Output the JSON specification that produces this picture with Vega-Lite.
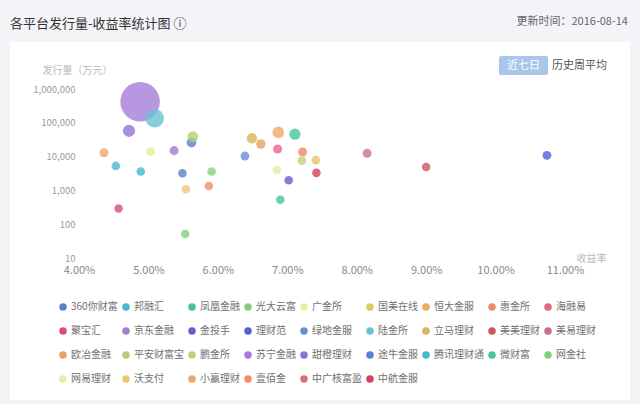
{
  "$schema": "https://vega.github.io/schema/vega-lite/v6.json",
  "autosize": "none",
  "width": 486,
  "height": 169,
  "padding": {"left": 79, "top": 89, "right": 75, "bottom": 146},
  "background": "#f3f4f8",
  "title": {
    "text": "各平台发行量-收益率统计图 ⓘ",
    "anchor": "start",
    "frame": "group",
    "baseline": "middle",
    "dx": -69,
    "offset": -21,
    "fontSize": 13,
    "fontWeight": "normal",
    "color": "#333333"
  },
  "config": {
    "font": "Noto Sans CJK SC",
    "view": {"stroke": null}
  },
  "data": {
    "values": [
      {"platform": "京东金融", "rate": 0.0488, "volume": 421000},
      {"platform": "陆金所", "rate": 0.0509, "volume": 136000},
      {"platform": "甜橙理财", "rate": 0.0472, "volume": 58000},
      {"platform": "小赢理财", "rate": 0.0436, "volume": 13000},
      {"platform": "广金所", "rate": 0.0503, "volume": 14000},
      {"platform": "苏宁金融", "rate": 0.0537, "volume": 15000},
      {"platform": "途牛金服", "rate": 0.0562, "volume": 26000},
      {"platform": "平安财富宝", "rate": 0.0564, "volume": 39000},
      {"platform": "邦融汇", "rate": 0.0453, "volume": 5300},
      {"platform": "腾讯理财通", "rate": 0.0489, "volume": 3600},
      {"platform": "360你财富", "rate": 0.0549, "volume": 3200},
      {"platform": "光大云富", "rate": 0.0591, "volume": 3600},
      {"platform": "沃支付", "rate": 0.0554, "volume": 1080},
      {"platform": "壹佰金", "rate": 0.0587, "volume": 1350},
      {"platform": "聚宝汇", "rate": 0.0457, "volume": 290},
      {"platform": "网金社", "rate": 0.0553, "volume": 51},
      {"platform": "绿地金服", "rate": 0.0639, "volume": 10400},
      {"platform": "立马理财", "rate": 0.0649, "volume": 35000},
      {"platform": "欧冶金融", "rate": 0.0662, "volume": 23600},
      {"platform": "恒大金服", "rate": 0.0687, "volume": 52000},
      {"platform": "凤凰金融", "rate": 0.0711, "volume": 46000},
      {"platform": "海融易", "rate": 0.0686, "volume": 16800},
      {"platform": "惠金所", "rate": 0.0722, "volume": 13700},
      {"platform": "鹏金所", "rate": 0.0721, "volume": 7600},
      {"platform": "国美在线", "rate": 0.0741, "volume": 7900},
      {"platform": "网易理财", "rate": 0.0685, "volume": 4000},
      {"platform": "中航金服", "rate": 0.0742, "volume": 3300},
      {"platform": "金投手", "rate": 0.0702, "volume": 2000},
      {"platform": "微财富", "rate": 0.069, "volume": 530},
      {"platform": "美易理财", "rate": 0.0815, "volume": 12500},
      {"platform": "美美理财", "rate": 0.09, "volume": 4900},
      {"platform": "理财范", "rate": 0.1074, "volume": 10900}
    ]
  },
  "layer": [
    {
      "data": {"values": [{}]},
      "mark": {"type": "rect", "color": "#ffffff"},
      "encoding": {
        "x": {"datum": 0.03006, "type": "quantitative", "scale": {"domain": [0.04, 0.11], "nice": false, "zero": false}},
        "x2": {"datum": 0.11936},
        "y": {"datum": 24600000, "type": "quantitative", "scale": {"type": "log", "domain": [10, 1000000], "nice": false}},
        "y2": {"datum": 0.00063}
      }
    },
    {
      "data": {"values": [{}]},
      "mark": {"type": "rect", "color": "#a9c5ea", "cornerRadius": 2},
      "encoding": {
        "x": {"datum": 0.10049, "type": "quantitative"},
        "x2": {"datum": 0.10755},
        "y": {"datum": 9460000, "type": "quantitative"},
        "y2": {"datum": 2590000}
      }
    },
    {
      "data": {"values": [{}]},
      "mark": {"type": "text", "text": "近七日", "align": "center", "baseline": "middle", "fontSize": 11, "color": "#ffffff"},
      "encoding": {
        "x": {"datum": 0.10402, "type": "quantitative"},
        "y": {"datum": 4950000, "type": "quantitative"}
      }
    },
    {
      "data": {"values": [{}]},
      "mark": {"type": "text", "text": "历史周平均", "align": "left", "baseline": "middle", "fontSize": 11, "color": "#555555"},
      "encoding": {
        "x": {"datum": 0.10813, "type": "quantitative"},
        "y": {"datum": 4950000, "type": "quantitative"}
      }
    },
    {
      "data": {"values": [{}]},
      "mark": {"type": "text", "text": "更新时间：2016-08-14", "align": "right", "baseline": "middle", "fontSize": 11, "color": "#666666"},
      "encoding": {
        "x": {"datum": 0.11907, "type": "quantitative"},
        "y": {"datum": 96000000, "type": "quantitative"}
      }
    },
    {
      "mark": {"type": "circle", "opacity": 0.8},
      "encoding": {
        "x": {
          "field": "rate",
          "type": "quantitative",
          "scale": {"domain": [0.04, 0.11], "nice": false, "zero": false},
          "axis": {
            "zindex": 1,
            "values": [0.04, 0.05, 0.06, 0.07, 0.08, 0.09, 0.1, 0.11],
            "format": ".2%",
            "grid": false,
            "ticks": false,
            "domain": false,
            "labelFlush": false,
            "labelPadding": 6,
            "labelFontSize": 11,
            "labelColor": "#8a8a8a",
            "title": "收益率",
            "titleX": 512,
            "titleY": 0,
            "titleAlign": "center",
            "titleBaseline": "middle",
            "titleColor": "#bbbbbb",
            "titleFontSize": 10,
            "titleFontWeight": "normal"
          }
        },
        "y": {
          "field": "volume",
          "type": "quantitative",
          "scale": {"type": "log", "domain": [10, 1000000], "nice": false},
          "axis": {
            "zindex": 1,
            "values": [10, 100, 1000, 10000, 100000, 1000000],
            "format": ",d",
            "grid": false,
            "ticks": false,
            "domain": false,
            "labelPadding": 4,
            "labelFontSize": 9.5,
            "labelColor": "#999999",
            "title": "发行量（万元）",
            "titleAngle": 0,
            "titleX": -2,
            "titleY": -19,
            "titleAlign": "center",
            "titleBaseline": "middle",
            "titleColor": "#bbbbbb",
            "titleFontSize": 10,
            "titleFontWeight": "normal"
          }
        },
        "size": {
          "field": "volume",
          "type": "quantitative",
          "scale": {"type": "pow", "exponent": 1.5, "domain": [0, 421000], "range": [72, 1560]},
          "legend": null
        },
        "color": {
          "field": "platform",
          "type": "nominal",
          "scale": {
            "domain": ["360你财富", "邦融汇", "凤凰金融", "光大云富", "广金所", "国美在线", "恒大金服", "惠金所", "海融易", "聚宝汇", "京东金融", "金投手", "理财范", "绿地金服", "陆金所", "立马理财", "美美理财", "美易理财", "欧冶金融", "平安财富宝", "鹏金所", "苏宁金融", "甜橙理财", "途牛金服", "腾讯理财通", "微财富", "网金社", "网易理财", "沃支付", "小赢理财", "壹佰金", "中广核富盈", "中航金服"],
            "range": ["#5b82c8", "#4db6cc", "#48c49a", "#86d27a", "#e2f0a0", "#e6c46a", "#f0a868", "#ee8a6a", "#e46888", "#d9506c", "#a57ed8", "#6a5ad0", "#5860d2", "#6a8cd4", "#6cc0d4", "#d4b65c", "#c85a60", "#cc6e88", "#e6a45e", "#b2d078", "#bcd47a", "#a47ad6", "#9470d8", "#5a80d0", "#44b6ce", "#46c49a", "#7cd47a", "#e4eea8", "#eec676", "#f0a66e", "#f08c68", "#dc6c72", "#d63e62"]
          },
          "legend": {
            "title": null,
            "orient": "none",
            "direction": "horizontal",
            "legendX": -21,
            "legendY": 213,
            "columns": 9,
            "gridAlign": "each",
            "symbolLimit": 0,
            "padding": 0,
            "rowPadding": 14,
            "columnPadding": 3,
            "symbolType": "circle",
            "symbolSize": 56,
            "symbolOpacity": 1,
            "symbolStrokeWidth": 0,
            "labelFontSize": 10,
            "labelOffset": 3,
            "labelColor": "#707070"
          }
        }
      }
    }
  ]
}
